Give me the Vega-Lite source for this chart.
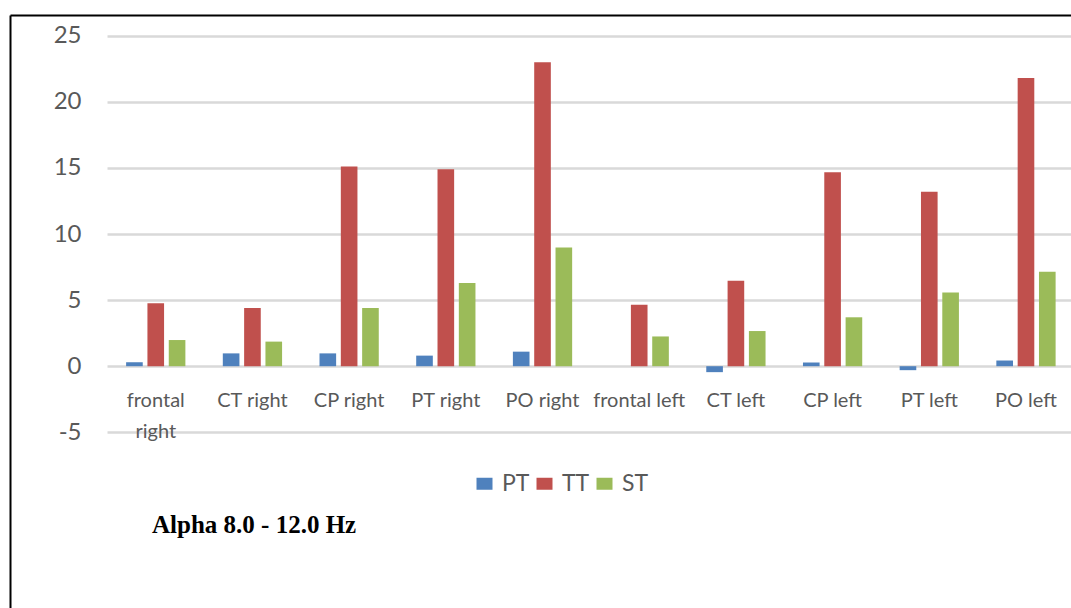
{
  "$schema": "https://vega.github.io/schema/vega-lite/v6.json",
  "width": 1061,
  "height": 593,
  "autosize": "none",
  "padding": {"left": 10, "top": 15, "right": 0, "bottom": 0},
  "background": "white",
  "config": {"view": {"stroke": null}, "font": "Lato"},
  "title": {
    "text": "Alpha 8.0 - 12.0 Hz",
    "orient": "top",
    "anchor": "start",
    "frame": "group",
    "offset": -555,
    "dx": 142,
    "baseline": "alphabetic",
    "font": "Liberation Serif",
    "fontSize": 25,
    "fontWeight": "bold",
    "color": "#000000"
  },
  "data": {
    "values": [
      {"region": "frontal right", "series": "PT", "value": 0.3},
      {"region": "frontal right", "series": "TT", "value": 4.77},
      {"region": "frontal right", "series": "ST", "value": 1.98},
      {"region": "CT right", "series": "PT", "value": 0.97},
      {"region": "CT right", "series": "TT", "value": 4.4},
      {"region": "CT right", "series": "ST", "value": 1.86},
      {"region": "CP right", "series": "PT", "value": 0.97},
      {"region": "CP right", "series": "TT", "value": 15.1},
      {"region": "CP right", "series": "ST", "value": 4.4},
      {"region": "PT right", "series": "PT", "value": 0.8},
      {"region": "PT right", "series": "TT", "value": 14.9},
      {"region": "PT right", "series": "ST", "value": 6.3},
      {"region": "PO right", "series": "PT", "value": 1.1},
      {"region": "PO right", "series": "TT", "value": 23.0},
      {"region": "PO right", "series": "ST", "value": 8.97},
      {"region": "frontal left", "series": "PT", "value": 0},
      {"region": "frontal left", "series": "TT", "value": 4.65},
      {"region": "frontal left", "series": "ST", "value": 2.25},
      {"region": "CT left", "series": "PT", "value": -0.45},
      {"region": "CT left", "series": "TT", "value": 6.47},
      {"region": "CT left", "series": "ST", "value": 2.66},
      {"region": "CP left", "series": "PT", "value": 0.28},
      {"region": "CP left", "series": "TT", "value": 14.67},
      {"region": "CP left", "series": "ST", "value": 3.7},
      {"region": "PT left", "series": "PT", "value": -0.3},
      {"region": "PT left", "series": "TT", "value": 13.2},
      {"region": "PT left", "series": "ST", "value": 5.57},
      {"region": "PO left", "series": "PT", "value": 0.43},
      {"region": "PO left", "series": "TT", "value": 21.8},
      {"region": "PO left", "series": "ST", "value": 7.15}
    ]
  },
  "mark": {"type": "bar"},
  "encoding": {
    "x": {
      "field": "region",
      "type": "nominal",
      "sort": null,
      "scale": {"paddingInner": 0.387, "paddingOuter": 0.68, "align": 0.883},
      "axis": {
        "orient": "bottom",
        "offset": -241.8,
        "domain": false,
        "ticks": false,
        "grid": false,
        "title": null,
        "labelAngle": 0,
        "labelFont": "Lato",
        "labelFontSize": 20,
        "labelColor": "#595959",
        "labelPadding": 24,
        "labelBaseline": "top",
        "labelLineHeight": 31,
        "labelExpr": "datum.value == 'frontal right' ? ['frontal', 'right'] : datum.value"
      }
    },
    "xOffset": {
      "field": "series",
      "type": "nominal",
      "sort": ["PT", "TT", "ST"],
      "scale": {"paddingInner": 0.22, "paddingOuter": 0}
    },
    "y": {
      "field": "value",
      "type": "quantitative",
      "scale": {"domain": [-18.29, 26.566], "nice": false, "zero": false},
      "axis": {
        "title": null,
        "values": [-5, 0, 5, 10, 15, 20, 25, 26.566],
        "labelExpr": "datum.value > 26 ? '' : toString(datum.value)",
        "labelOverlap": false,
        "domain": true,
        "domainColor": "#000000",
        "domainWidth": 2,
        "ticks": false,
        "labelPadding": -71,
        "labelFont": "Lato",
        "labelFontSize": 24,
        "labelColor": "#595959",
        "grid": true,
        "gridColor": {"condition": {"test": "datum.value > 26", "value": "#000000"}, "value": "#d9d9d9"},
        "gridWidth": {"condition": {"test": "datum.value > 26", "value": 2}, "value": 2.5},
        "gridDash": {"condition": {"test": "datum.value > 26", "value": []}, "value": [0, 97, 3000]}
      }
    },
    "color": {
      "field": "series",
      "type": "nominal",
      "sort": ["PT", "TT", "ST"],
      "scale": {"domain": ["PT", "TT", "ST"], "range": ["#4f81bd", "#c0504d", "#9bbb59"]},
      "legend": {
        "orient": "none",
        "legendX": 463,
        "legendY": 457,
        "direction": "horizontal",
        "title": null,
        "padding": 0,
        "symbolType": "M-1,-0.75H1V0.75H-1Z",
        "symbolSize": 256,
        "symbolStrokeWidth": 0,
        "symbolOpacity": 1,
        "labelFont": "Lato",
        "labelFontSize": 23,
        "labelColor": "#595959",
        "labelOffset": 6,
        "columnPadding": 3
      }
    }
  }
}
